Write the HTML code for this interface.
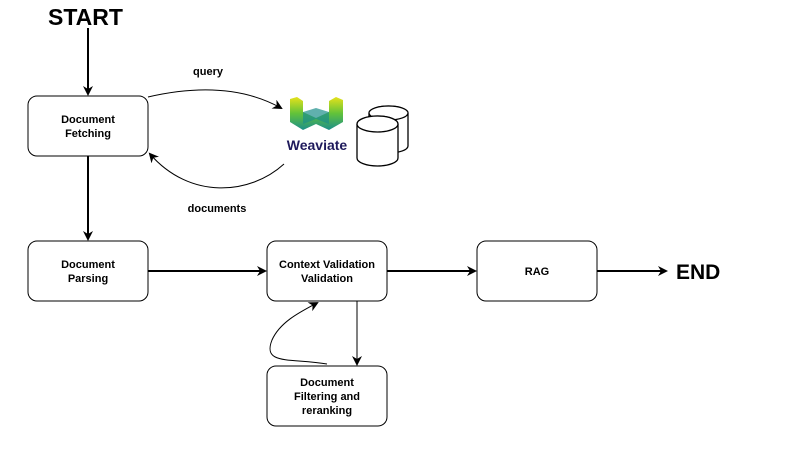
<!DOCTYPE html>
<html><head><style>
body{margin:0;background:#fff;}
text{font-family:"Liberation Sans",sans-serif;}
</style></head><body>
<svg width="798" height="462" viewBox="0 0 798 462" xmlns="http://www.w3.org/2000/svg">
<defs>
<marker id="a" markerWidth="10" markerHeight="10" refX="8" refY="5" orient="auto" markerUnits="userSpaceOnUse">
<path d="M0,0 L10,5 L0,10 L3,5 Z" fill="#000"/></marker>
<linearGradient id="g" x1="0" y1="0" x2="0" y2="1">
<stop offset="0" stop-color="#e6e21a"/><stop offset="0.5" stop-color="#62c23a"/><stop offset="1" stop-color="#1c8f8a"/></linearGradient>
</defs>
<text x="48" y="25" font-size="23" font-weight="bold">START</text>
<text x="676" y="279" font-size="21" font-weight="bold">END</text>
<g fill="#fff" stroke="#000" stroke-width="1">
<rect x="28" y="96" width="120" height="60" rx="9"/>
<rect x="28" y="241" width="120" height="60" rx="9"/>
<rect x="267" y="241" width="120" height="60" rx="9"/>
<rect x="477" y="241" width="120" height="60" rx="9"/>
<rect x="267" y="366" width="120" height="60" rx="9"/>
</g>
<g font-size="11" font-weight="bold" text-anchor="middle">
<text x="88" y="123">Document</text><text x="88" y="137">Fetching</text>
<text x="88" y="268">Document</text><text x="88" y="282">Parsing</text>
<text x="327" y="268">Context Validation</text><text x="327" y="282">Validation</text>
<text x="537" y="275">RAG</text>
<text x="327" y="386">Document</text><text x="327" y="400">Filtering and</text><text x="327" y="414">reranking</text>
<text x="208" y="75">query</text>
<text x="217" y="212">documents</text>
</g>
<g stroke="#000" stroke-width="2" fill="none">
<line x1="88" y1="28" x2="88" y2="94" marker-end="url(#a)"/>
<line x1="88" y1="156" x2="88" y2="239" marker-end="url(#a)"/>
<line x1="148" y1="271" x2="265" y2="271" marker-end="url(#a)"/>
<line x1="387" y1="271" x2="475" y2="271" marker-end="url(#a)"/>
<line x1="597" y1="271" x2="666" y2="271" marker-end="url(#a)"/>
</g>
<g stroke="#000" stroke-width="1" fill="none">
<path d="M148,97 C200,85 245,88 281,108" marker-end="url(#a)"/>
<path d="M284,164 C250,195 190,200 150,154" marker-end="url(#a)"/>
<line x1="357" y1="301" x2="357" y2="364" marker-end="url(#a)"/>
<path d="M327,364 C290,358 262,365 272,340 C280,322 300,312 317,303" marker-end="url(#a)"/>
</g>
<g stroke="#000" stroke-width="1.3" fill="#fff">
<path d="M369,113 A19.5,7 0 0 1 408,113 L408,146 A19.5,7 0 0 1 369,146 Z"/>
<ellipse cx="388.5" cy="113" rx="19.5" ry="7"/>
<path d="M357,124 A20.5,8 0 0 1 398,124 L398,158 A20.5,8 0 0 1 357,158 Z"/>
<ellipse cx="377.5" cy="124" rx="20.5" ry="8"/>
</g>
<g>
<path d="M290,99 L297,97 L303,101 L303,112 L316,118 L329,112 L329,101 L336,97 L343,100 L343,122 L329,130 L316,124 L303,130 L290,122 Z" fill="url(#g)"/>
<path d="M303,112 L316,108 L329,112 L329,124 L316,119 L303,124 Z" fill="#1c8f8a" opacity="0.7"/>
</g>
<text x="317" y="150" font-size="14" font-weight="bold" fill="#1f1a5c" text-anchor="middle">Weaviate</text>
</svg>
</body></html>
